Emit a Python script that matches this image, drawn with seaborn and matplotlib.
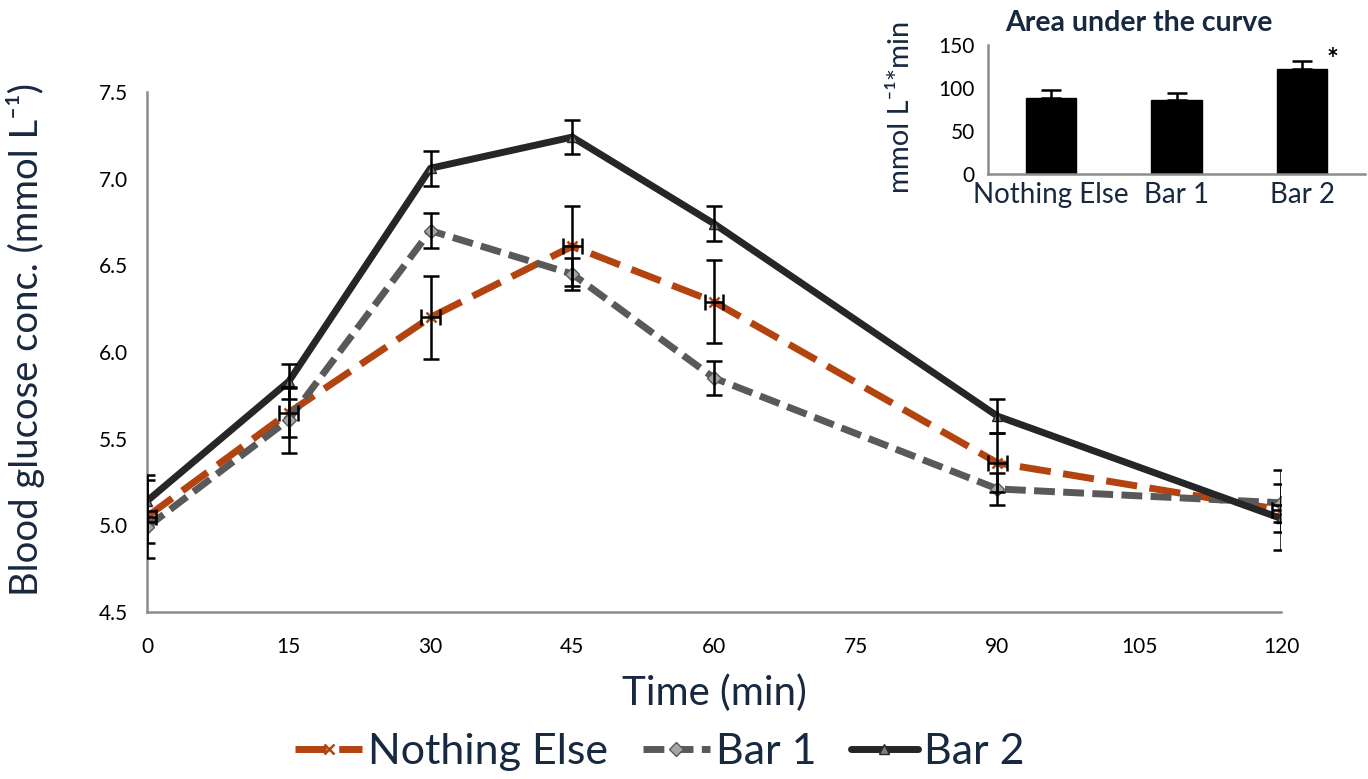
import pandas as pd
import matplotlib.pyplot as plt
import seaborn as sns

# glucose curves (mmol/L) and SEM
time_min = [0, 15, 30, 45, 60, 90, 120]
nothing_else = [5.05, 5.65, 6.20, 6.61, 6.29, 5.36, 5.09]
nothing_else_err = [0.24, 0.14, 0.24, 0.23, 0.24, 0.17, 0.23]
bar1 = [4.99, 5.61, 6.70, 6.45, 5.85, 5.21, 5.13]
bar1_err = [0.09, 0.19, 0.10, 0.09, 0.10, 0.09, 0.11]
bar2 = [5.14, 5.83, 7.06, 7.24, 6.74, 5.63, 5.04]
bar2_err = [0.12, 0.10, 0.10, 0.10, 0.10, 0.10, 0.08]

# area under the curve inset
auc_groups = ['Nothing Else', 'Bar 1', 'Bar 2']
auc_values = [88.5, 86, 122.5]
auc_err = [9, 8, 9]

TEXT_COLOR = '#17283f'
AXIS_COLOR = '#8c8c8c'

sns.set_style('white')
plt.rcParams['font.family'] = ['Lato', 'DejaVu Sans']

fig = plt.figure(figsize=(13.68, 7.79), dpi=100)
ax = fig.add_axes([147 / 1368, 1 - 612 / 779, (1281 - 147) / 1368, (612 - 92) / 779])

series = [
    ('Nothing Else', nothing_else, nothing_else_err, '#b3440f', (0, (4.5, 1.8)), 'x', '#b3440f', '#b3440f'),
    ('Bar 1', bar1, bar1_err, '#595959', (0, (3, 1.2)), 'D', '#a6a6a6', '#595959'),
    ('Bar 2', bar2, bar2_err, '#262626', '-', '^', '#7f7f7f', '#262626'),
]

for name, vals, errs, color, ls, marker, mfc, mec in series:
    df = pd.DataFrame({'time': time_min, 'glucose': vals})
    sns.lineplot(data=df, x='time', y='glucose', ax=ax, color=color, linewidth=5,
                 linestyle=ls, marker=marker, markersize=7, markerfacecolor=mfc,
                 markeredgecolor=mec, markeredgewidth=1.8 if marker == 'x' else 1,
                 label=name, zorder=2)
    xerr = 1.0 if name == 'Nothing Else' else None
    ax.errorbar(time_min, vals, yerr=errs, xerr=xerr, fmt='none', ecolor='black',
                elinewidth=1.8, capsize=6, capthick=1.8, zorder=3)

ax.set_xlim(0, 120)
ax.set_ylim(4.5, 7.5)
ax.set_xticks([0, 15, 30, 45, 60, 75, 90, 105, 120])
ax.set_yticks([4.5, 5.0, 5.5, 6.0, 6.5, 7.0, 7.5])
ax.set_yticklabels(['4.5', '5.0', '5.5', '6.0', '6.5', '7.0', '7.5'])
for side in ['top', 'right']:
    ax.spines[side].set_visible(False)
for side in ['left', 'bottom']:
    ax.spines[side].set_color(AXIS_COLOR)
    ax.spines[side].set_linewidth(1.8)
ax.tick_params(axis='both', direction='out', length=6, width=1.8, color=AXIS_COLOR,
               labelsize=15, labelcolor='black', pad=8)
ax.tick_params(axis='x', pad=12)
ax.set_xlabel('Time (min)', fontsize=29, color=TEXT_COLOR)
ax.set_ylabel('Blood glucose conc. (mmol L\u207b\u00b9)', fontsize=27.5, color=TEXT_COLOR)
ax.xaxis.set_label_coords(0.5, -0.12)
ax.yaxis.set_label_coords(-0.09, 0.525)

handles, labels = ax.get_legend_handles_labels()
ax.legend(handles, labels, loc='center', bbox_to_anchor=(660 / 1368, 1 - 752 / 779),
          bbox_transform=fig.transFigure, ncol=3, frameon=False, fontsize=31,
          labelcolor=TEXT_COLOR, handlelength=1.55, handletextpad=0.15, columnspacing=0.8)

# inset: area under the curve
ins = fig.add_axes([988 / 1368, 1 - 174 / 779, (1365 - 988) / 1368, 129 / 779])
auc_df = pd.DataFrame({'group': auc_groups, 'auc': auc_values})
sns.barplot(data=auc_df, x='group', y='auc', ax=ins, color='black', width=0.4,
            edgecolor='black', saturation=1)
ins.errorbar(range(len(auc_groups)), auc_values, yerr=[[0] * 3, auc_err], fmt='none',
             ecolor='black', elinewidth=1.8, capsize=7, capthick=1.8)
ins.text(2.24, 133, '*', ha='center', va='center', fontsize=20, fontweight='bold', color='black')
ins.set_xlim(-0.5, 2.5)
ins.set_ylim(0, 150)
ins.set_yticks([0, 50, 100, 150])
ins.set_xticks([0.5, 1.5], minor=True)
ins.tick_params(axis='x', which='major', length=0, labelsize=20, labelcolor=TEXT_COLOR, pad=6)
ins.tick_params(axis='x', which='minor', direction='out', length=6, width=1.8, color=AXIS_COLOR)
ins.tick_params(axis='y', direction='out', length=6, width=1.8, color=AXIS_COLOR,
                labelsize=15, labelcolor='black')
for side in ['top', 'right']:
    ins.spines[side].set_visible(False)
for side in ['left', 'bottom']:
    ins.spines[side].set_color(AXIS_COLOR)
    ins.spines[side].set_linewidth(1.8)
ins.set_xlabel('')
ins.set_ylabel('mmol L\u207b\u00b9*min', fontsize=21, color=TEXT_COLOR)
ins.yaxis.set_label_coords(-0.195, 0.52)
ins.set_title('Area under the curve', fontsize=20.5, fontweight='bold', color=TEXT_COLOR,
              x=0.40, pad=10)

fig.savefig('out.png', dpi=100)
